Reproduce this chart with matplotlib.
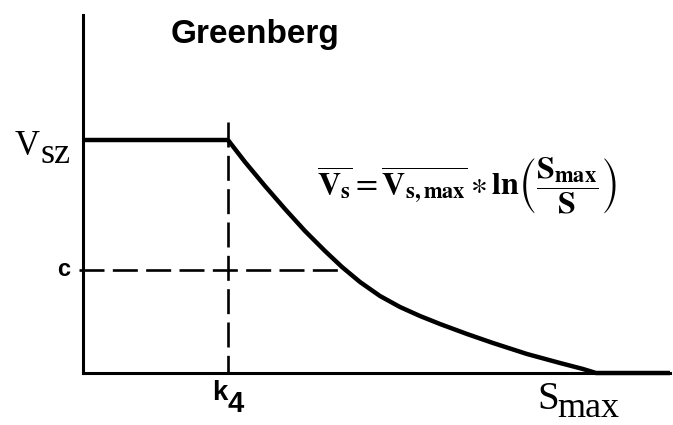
import numpy as np
import matplotlib
matplotlib.use("Agg")
import matplotlib.pyplot as plt

plt.rcParams['mathtext.fontset'] = 'stix'
plt.rcParams['lines.scale_dashes'] = False

# model parameters (in drawing units)
k4 = 145
v_sz = 233
c_level = 103

# free-flow speed curve after k4, read point by point
curve_s = [145, 162, 182, 202, 222, 242, 259, 277, 297, 317, 337, 357,
           384, 410, 444, 477, 500, 513, 587]
curve_v = [233, 211, 187, 164, 142, 122, 106, 91, 77, 66, 57, 49,
           39, 30, 19, 10, 4, 0, 0]

W, H = 673, 425
fig = plt.figure(figsize=(W / 100, H / 100), dpi=100)
ax = fig.add_axes([83 / W, 52 / H, 587 / W, 358 / H])
ax.set_xlim(0, 587)
ax.set_ylim(0, 358)

for s in ['top', 'right']:
    ax.spines[s].set_visible(False)
for s in ['left', 'bottom']:
    ax.spines[s].set_linewidth(2.2)
ax.set_xticks([])
ax.set_yticks([])

# flat part up to k4, then the decreasing curve
ax.plot([0, k4], [v_sz, v_sz], color='black', lw=3.2, clip_on=False,
        solid_capstyle='butt')
ax.plot(curve_s, curve_v, color='black', lw=3.2, clip_on=False,
        solid_joinstyle='round', solid_capstyle='butt')

# guide lines
ax.plot([k4, k4], [v_sz + 18, 0], color='black', lw=1.9, dashes=[18, 6],
        clip_on=False)
c_end = np.interp(c_level, curve_v[::-1], curve_s[::-1])
ax.plot([-4, c_end], [c_level, c_level], color='black', lw=1.9,
        dashes=[18, 6], clip_on=False)

# labels
ax.text(172, 338, 'Greenberg', fontsize=24, fontweight='bold',
        family='Liberation Sans', ha='center', va='center')
ax.text(-68, 218, 'V', fontsize=25, family='Liberation Serif',
        ha='left', va='baseline')
ax.text(-43, 210, 'sz', fontsize=26, family='Liberation Serif',
        ha='left', va='baseline')
ax.text(-13, c_level, 'c', fontsize=17, fontweight='bold',
        family='Liberation Sans', ha='right', va='center')
ax.text(k4 - 16, -27, 'k', fontsize=20, fontweight='bold',
        family='Liberation Sans', ha='left', va='baseline')
ax.text(k4 - 1, -39, '4', fontsize=21, fontweight='bold',
        family='Liberation Sans', ha='left', va='baseline')
ax.text(454, -36, 'S', fontsize=28, family='Liberation Serif',
        ha='left', va='baseline')
ax.text(474, -44, 'max', fontsize=26, family='Liberation Serif',
        ha='left', va='baseline')

ax.text(234, 187,
        r'$\overline{\mathbf{V}_{\mathbf{s}}}=\overline{\mathbf{V}_{\mathbf{s,max}}}'
        r'\ast\mathbf{ln}\left(\dfrac{\mathbf{S}_{\mathbf{max}}}{\mathbf{S}}\right)$',
        fontsize=23, ha='left', va='center')

fig.savefig('out.png', dpi=100)
